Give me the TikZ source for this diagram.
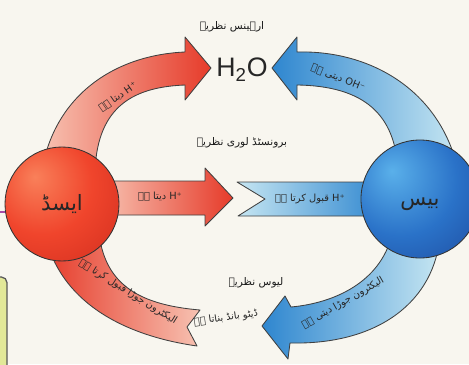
\documentclass[tikz,border=0pt]{standalone}
\usepackage{fontspec}
\setmainfont{Liberation Sans}
\newfontfamily\urdufont[Script=Arabic]{DejaVu Sans}
\TeXXeTstate=1
\definecolor{paper}{HTML}{F8F6EF}
\definecolor{redhead}{HTML}{E63B2A}
\definecolor{redpale}{HTML}{F7C2B2}
\definecolor{bluehead}{HTML}{2E86CF}
\definecolor{bluepale}{HTML}{C6E6F2}
\definecolor{acidhi}{HTML}{F9805A}
\definecolor{acidmid}{HTML}{F0452C}
\definecolor{acidlo}{HTML}{C8261A}
\definecolor{basehi}{HTML}{5AB0EA}
\definecolor{basemid}{HTML}{2A72C8}
\definecolor{baselo}{HTML}{1A3F92}
\definecolor{boxfill}{HTML}{E2E898}
\pgfdeclareradialshading{acidball}{\pgfpoint{-12bp}{12bp}}{color(0bp)=(acidhi); color(22bp)=(acidmid); color(52bp)=(acidlo); color(80bp)=(acidlo)}
\pgfdeclareradialshading{baseball}{\pgfpoint{-12bp}{12bp}}{color(0bp)=(basehi); color(24bp)=(basemid); color(52bp)=(baselo); color(80bp)=(baselo)}
\newcommand\urtext[1]{{\urdufont\beginR #1\endR}}
\newcommand\ltrtext[1]{\beginL #1\endL{}}
\tikzset{
  band/.style={draw=black!75, line width=0.6pt, line join=round},
  sphere/.style={circle, draw=black!80, line width=0.6pt, minimum size=114*0.025cm, inner sep=0pt},
  spherelabel/.style={font=\urdufont\fontsize{15}{17}\selectfont, text=black!85},
  bandlabel/.style={font=\urdufont\fontsize{7}{8}\selectfont, text=black!85, inner sep=1pt},
  theorylabel/.style={font=\urdufont\fontsize{7.5}{9}\selectfont, text=black!90, inner sep=1pt},
}

\begin{document}
\begin{tikzpicture}[x=0.025cm, y=-0.025cm]
\useasboundingbox (0,0) rectangle (469,364);
\fill[paper] (0,0) rectangle (469,364);
\draw[black!65, fill=boxfill, line width=0.9pt, rounded corners=4pt] (-10,277) -- (7,277) -- (7,380) -- (-10,380);
\draw[violet!70, line width=1pt] (0,212) -- (6,212);
\draw[band, left color=redpale, right color=redhead] (42,170) .. controls (55,95) and (115,55) .. (185,52) -- (185,37) -- (211,68) -- (185,100) -- (185,85) .. controls (135,87) and (98,105) .. (95,170) -- cycle;
\draw[band, left color=bluehead, right color=bluepale] (272,68) -- (297,37) -- (297,52) .. controls (370,50) and (440,90) .. (458,170) -- (398,170) .. controls (395,115) and (365,86) .. (297,85) -- (297,100) -- cycle;
\draw[band, left color=redpale, right color=redhead] (100,181) -- (205,181) -- (205,168) -- (233,198) -- (205,226) -- (205,215) -- (100,215) -- cycle;
\draw[band, left color=bluepale, right color=bluehead] (237,182) -- (385,182) -- (385,216) -- (238,216) -- (265,199) -- cycle;
\draw[band, left color=redhead, right color=redpale] (45,235) .. controls (60,300) and (120,335) .. (197,346) -- (187,327) -- (200,310) .. controls (140,305) and (108,285) .. (100,240) -- cycle;
\draw[band, left color=bluehead, right color=bluepale] (262,326) -- (285,296) -- (291,307) .. controls (335,303) and (380,282) .. (392,235) -- (440,235) .. controls (435,300) and (380,345) .. (290,343) -- (288,359) -- cycle;
\node[sphere, shading=acidball] (acid) at (62,204) {};
\node[sphere, shading=baseball, minimum size=118*0.025cm] (base) at (420,199) {};
\node[spherelabel] at (acid) {\urtext{ایسڈ}};
\node[spherelabel] at ([yshift=-4]base) {\urtext{بیس}};
\node[font=\fontsize{19}{21}\selectfont, text=black!85] (water) at (242,70) {H\textsubscript{2}O};
\node[theorylabel] (arrhenius) at (232,27) {\urtext{ارہینس نظریہ}};
\node[theorylabel] (bronsted) at (242,143) {\urtext{برونسٹڈ لوری نظریہ}};
\node[theorylabel] (lewis) at (256,283) {\urtext{لیوس نظریہ}};
\node[bandlabel, rotate=8] (dative) at (226,318) {\urtext{ڈیٹو بانڈ بناتا ہے}};
\node[bandlabel, rotate=35] (donorA) at (118,97) {\urtext{\ltrtext{H⁺} دیتا ہے}};
\node[bandlabel, rotate=-22] (donorOH) at (338,78) {\urtext{\ltrtext{OH⁻} دیتی ہے}};
\node[bandlabel] (donorB) at (160,197) {\urtext{\ltrtext{H⁺} دیتا ہے}};
\node[bandlabel] (acceptB) at (310,199) {\urtext{\ltrtext{H⁺} قبول کرتا ہے}};
\node[bandlabel, rotate=-32] (acceptL) at (128,292) {\urtext{الیکٹرون جوڑا قبول کرتا ہے}};
\node[bandlabel, rotate=30] (donorL) at (343,303) {\urtext{الیکٹرون جوڑا دیتی ہے}};
\end{tikzpicture}
\end{document}
